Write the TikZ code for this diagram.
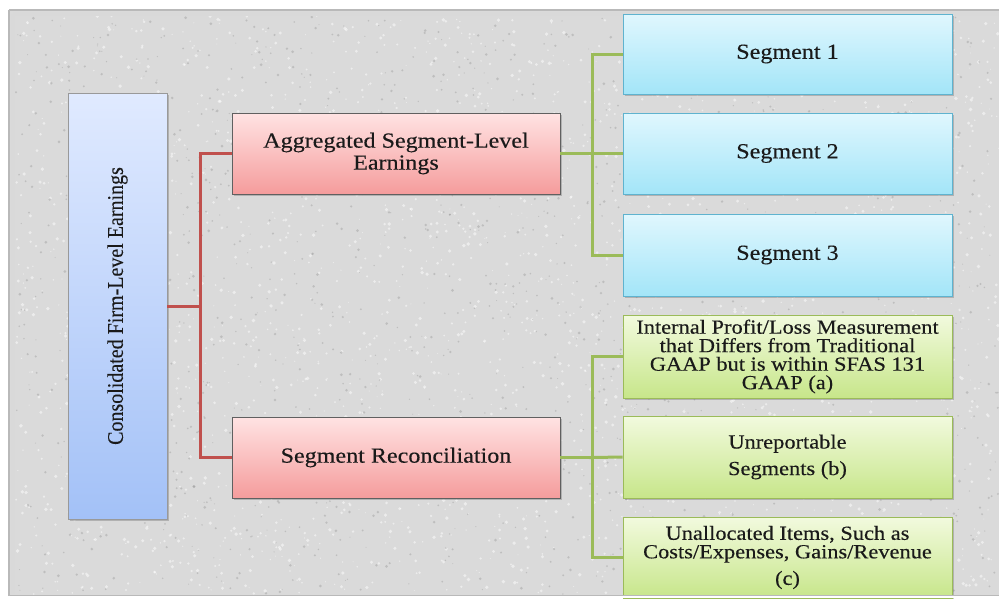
\documentclass[tikz,border=0pt]{standalone}
\usepackage{fontspec}
\setmainfont{Liberation Serif}
\newfontfamily\widefont[FakeStretch=1.12, FakeBold=0.3]{Liberation Serif}
\newfontfamily\plainfont[FakeBold=0.1]{Liberation Serif}
\usetikzlibrary{shadows}
\definecolor{bgc}{HTML}{DADADA}
\definecolor{bluetop}{HTML}{E0EAFF}
\definecolor{bluebot}{HTML}{A3C1F7}
\definecolor{pinktop}{HTML}{FFE3E3}
\definecolor{pinkbot}{HTML}{F59C9C}
\definecolor{cyantop}{HTML}{E0F7FE}
\definecolor{cyanbot}{HTML}{A3E5F8}
\definecolor{cyanbd}{HTML}{5FB3CF}
\definecolor{greentop}{HTML}{F2FADE}
\definecolor{greenbot}{HTML}{C7E68A}
\definecolor{greenbd}{HTML}{9BBB59}
\definecolor{redln}{HTML}{C0504D}
\definecolor{greenln}{HTML}{9BBB59}
\definecolor{txt}{HTML}{1A1A1A}
\tikzset{
  boxbase/.style={rectangle, inner sep=2pt, align=center, text=txt,
    drop shadow={shadow xshift=2pt, shadow yshift=-2pt, opacity=0.35, fill=black!60}},
  consbox/.style={boxbase, draw=gray!80, line width=0.8pt, top color=bluetop, bottom color=bluebot,
    minimum width=99pt, minimum height=426pt},
  pinkbox/.style={boxbase, draw=gray!75!black, line width=0.8pt, top color=pinktop, bottom color=pinkbot,
    minimum width=328pt, minimum height=81pt, font=\widefont\fontsize{21.5}{22}\selectfont},
  cyanbox/.style={boxbase, draw=cyanbd, line width=0.8pt, top color=cyantop, bottom color=cyanbot,
    minimum width=329pt, minimum height=81pt, font=\widefont\fontsize{21.5}{22}\selectfont},
  greenbox/.style={boxbase, draw=greenbd, line width=0.8pt, top color=greentop, bottom color=greenbot,
    minimum width=329pt, minimum height=82pt, font=\widefont\fontsize{20}{18.5}\selectfont},
  redline/.style={draw=redln, line width=3pt},
  greenline/.style={draw=greenln, line width=3pt},
}
\begin{document}
\begin{tikzpicture}[x=1pt,y=-1pt]
\useasboundingbox (0,0) rectangle (999,598);
\fill[white] (0,0) rectangle (999,598);
\fill[bgc] (9,10) rectangle (999,596);
\pgfmathsetseed{42}
\foreach \i in {1,...,2600} {
  \fill[white, opacity=0.5] (16+983*rnd, 16+578*rnd) circle (0.5+1.4*rnd);
}
\foreach \i in {1,...,1500} {
  \fill[gray, opacity=0.3] (16+983*rnd, 16+578*rnd) circle (0.5+1.0*rnd);
}
\draw[gray!55, line width=2pt] (9,10) -- (1010,10);
\draw[gray!55, line width=2pt] (9,10) -- (9,596);
\draw[gray!30, line width=4pt] (13,14) -- (1010,14);
\draw[gray!30, line width=4pt] (13,14) -- (13,594);

% nodes
\node[consbox] (cons) at (117.5,306) {\rotatebox{90}{\scalebox{1}[1.12]{\plainfont\fontsize{20}{24}\selectfont Consolidated Firm-Level Earnings}}};
\node[pinkbox] (agg) at (396,153.5) {Aggregated Segment-Level\\Earnings};
\node[pinkbox] (rec) at (396,457.5) {Segment Reconciliation};
\node[cyanbox, minimum height=80pt] (s1) at (787.5,54) {Segment 1};
\node[cyanbox] (s2) at (787.5,153.5) {Segment 2};
\node[cyanbox, minimum height=82pt] (s3) at (787.5,255) {Segment 3};
\node[greenbox, minimum height=83pt] (ga) at (787.5,356.5) {Internal Profit/Loss Measurement\\that Differs from Traditional\\GAAP but is within SFAS 131\\GAAP (a)};
\node[greenbox] (gb) at (787.5,457) {Unreportable\\[8pt]Segments (b)};
\node[greenbox, minimum height=81pt] (gc) at (787.5,557.5) {Unallocated Items, Such as\\Costs/Expenses, Gains/Revenue\\[8pt](c)};

% junctions
\coordinate (rj) at (200,306);
\coordinate (gj1) at (592,153.5);
\coordinate (gj2) at (592,457.5);

% connectors
\draw[redline] (cons.east) -- (rj);
\draw[redline] (agg.west) -| (rj);
\draw[redline] (rec.west) -| (rj);
\draw[greenline] (agg.east) -- (gj1);
\draw[greenline] (s1.west) -| (gj1);
\draw[greenline] (s2.west) -- (gj1);
\draw[greenline] (s3.west) -| (gj1);
\draw[greenline] (rec.east) -- (gj2);
\draw[greenline] (ga.west) -| (gj2);
\draw[greenline] (gb.west) -- (gj2);
\draw[greenline] (gc.west) -| (gj2);

% bottom frame edge
\fill[white] (0,596) rectangle (999,598);
\draw[gray!55, line width=1.5pt] (9,595.5) -- (999,595.5);
\end{tikzpicture}
\end{document}
